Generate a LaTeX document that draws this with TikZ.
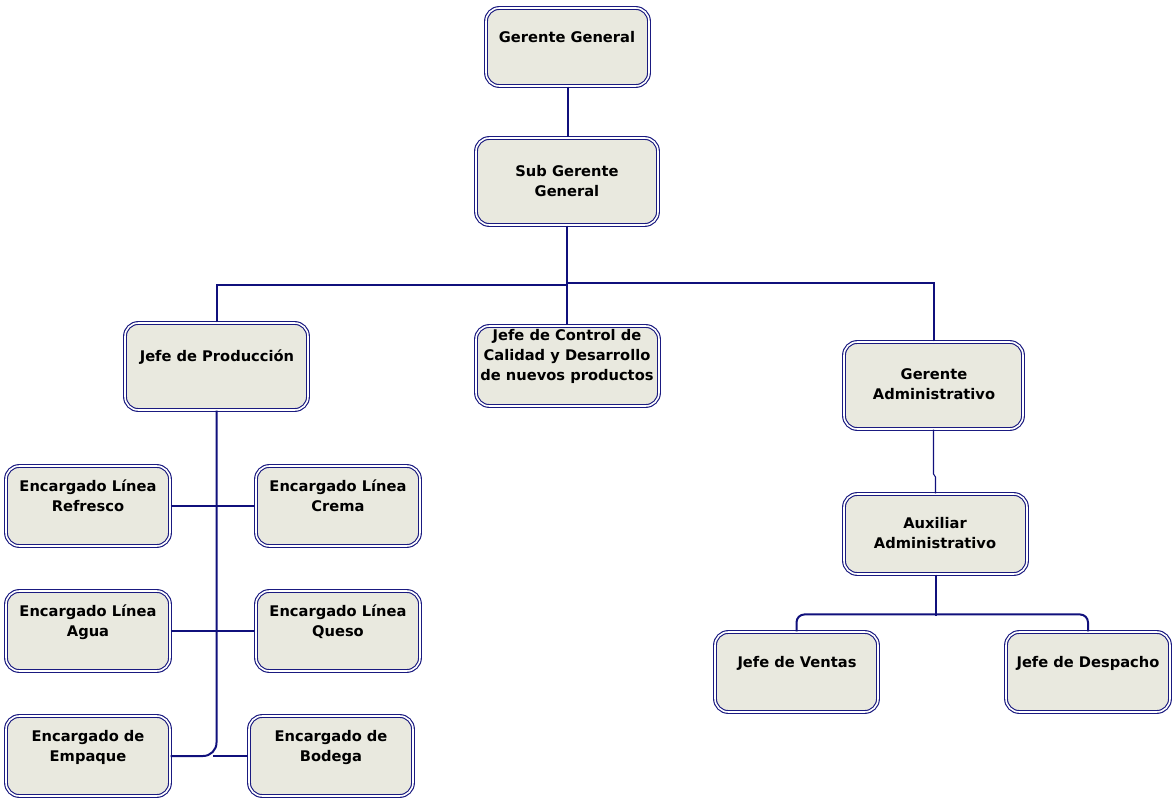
\documentclass[tikz,border=0pt]{standalone}
\usepackage{fontspec}
\setmainfont{DejaVu Sans}
\begin{document}
\definecolor{frame}{HTML}{1A1A80}
\definecolor{wire}{HTML}{10107C}
\definecolor{boxfill}{HTML}{E9E9DF}
\begin{tikzpicture}[x=0.75pt,y=-0.75pt,
  orgbox/.style={draw=frame, line width=0.85pt, double=white, double distance=1.2pt,
    fill=boxfill, rounded corners=10pt, inner sep=0pt},
  orgtext/.style={anchor=north, inner sep=0pt, align=center,
    font=\fontsize{11}{15}\selectfont\bfseries},
  link/.style={draw=wire, line width=1.5pt},
  thinlink/.style={draw=wire, line width=0.8pt}]
\useasboundingbox (0,0) rectangle (1172,798);
% boxes: name, centre, outer width and height in px
\newcommand\orgnode[5]{%
  \node[orgbox, minimum width={(#4-4)*0.75pt}, minimum height={(#5-4)*0.75pt}] (#1) at (#2,#3) {};}
\orgnode{gg}{567.5}{47}{167}{82}
\orgnode{sgg}{567}{181.5}{186}{91}
\orgnode{jp}{216.5}{366.5}{187}{91}
\orgnode{jc}{567.5}{366}{187}{84}
\orgnode{ga}{933.5}{385.5}{183}{91}
\orgnode{aa}{935.5}{534}{187}{84}
\orgnode{jv}{796.5}{672}{167}{84}
\orgnode{jd}{1088}{672}{168}{84}
\orgnode{elr}{88}{506}{168}{84}
\orgnode{elc}{338}{506}{168}{84}
\orgnode{ela}{88}{631}{168}{84}
\orgnode{elq}{338}{631}{168}{84}
\orgnode{ee}{88}{756}{168}{84}
\orgnode{eb}{331}{756}{168}{84}
% titles
\node[orgtext] (gg-t) at (567,31) {Gerente General};
\node[orgtext] (sgg-t) at (567,165) {Sub Gerente\\General};
\node[orgtext] (jp-t) at (217,350) {Jefe de Producción};
\node[orgtext] (jc-t) at (567,329) {Jefe de Control de\\Calidad y Desarrollo\\de nuevos productos};
\node[orgtext] (ga-t) at (934,368) {Gerente\\Administrativo};
\node[orgtext] (aa-t) at (935,517) {Auxiliar\\Administrativo};
\node[orgtext] (jv-t) at (797,656) {Jefe de Ventas};
\node[orgtext] (jd-t) at (1088,656) {Jefe de Despacho};
\node[orgtext] (elr-t) at (88,480) {Encargado Línea\\Refresco};
\node[orgtext] (elc-t) at (338,480) {Encargado Línea\\Crema};
\node[orgtext] (ela-t) at (88,605) {Encargado Línea\\Agua};
\node[orgtext] (elq-t) at (338,605) {Encargado Línea\\Queso};
\node[orgtext] (ee-t) at (88,730) {Encargado de\\Empaque};
\node[orgtext] (eb-t) at (331,730) {Encargado de\\Bodega};
% junction points
\coordinate (busL) at (568,285);
\coordinate (busR) at (568,283);
\coordinate (gaJog) at (933.5,474);
\coordinate (bodJ) at (213,756);
% connectors
\draw[link] (gg.south) -- (gg.south |- sgg.north);
\draw[link] (sgg.south) -- (sgg.south |- jc.north);
\draw[link] (jp.north) |- (busL);
\draw[link] (ga.north) |- (busR);
\draw[link, rounded corners=10pt] (jp.south) |- (ee.east);
\draw[link] (elr.east) -- (elc.west);
\draw[link] (ela.east) -- (elq.west);
\draw[link] (bodJ) -- (eb.west);
\draw[thinlink] (ga.south) -- (gaJog) -- ++(2,3) -- (aa.north);
\draw[link] (aa.south) -- ++(0,41);
\draw[link, rounded corners=6pt] (jv.north) -- ++(0,-17) -| (jd.north);
\end{tikzpicture}
\end{document}
